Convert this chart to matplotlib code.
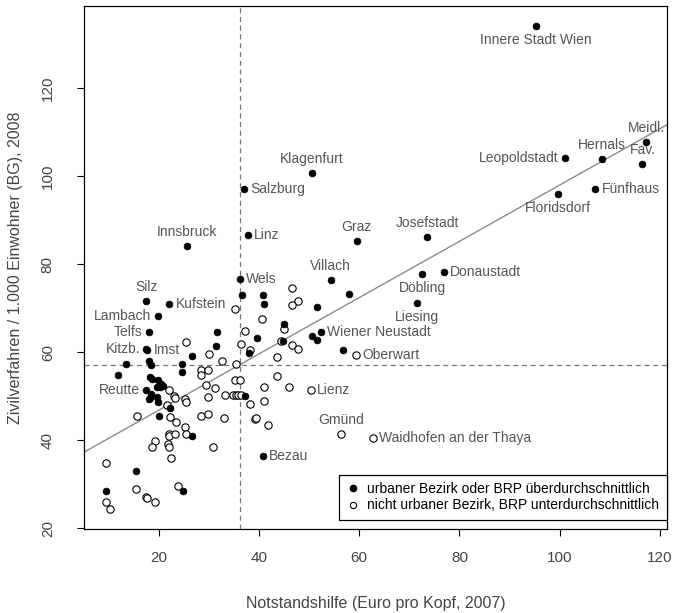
import matplotlib
matplotlib.use("Agg")
import matplotlib.pyplot as plt
from matplotlib.lines import Line2D

# urbane Bezirke / BRP ueberdurchschnittlich (gefuellte Punkte)
urban_names = [
    "Innere Stadt Wien", "Meidl.", "Fav.", "Hernals", "Leopoldstadt", "Fünfhaus",
    "Floridsdorf", "Klagenfurt", "Salzburg", "Linz", "Innsbruck", "Graz",
    "Josefstadt", "Villach", "Donaustadt", "Döbling", "Liesing", "Wiener Neustadt",
    "Wels", "Silz", "Kufstein", "Lambach", "Telfs", "Kitzb.", "Imst", "Reutte", "Bezau",
]
urban_x = [95.2, 117.2, 116.5, 108.4, 101.1, 107.1, 99.6, 50.6, 37.0, 37.8, 25.6, 59.5,
           73.6, 54.3, 76.9, 72.6, 71.6, 52.4, 36.2, 17.5, 22.1, 19.8, 18.1, 17.5, 17.7,
           17.4, 40.8]
urban_y = [134.1, 107.7, 102.7, 103.9, 104.1, 97.1, 95.9, 100.8, 97.0, 86.6, 84.1, 85.3,
           86.1, 76.4, 78.3, 77.8, 71.1, 64.5, 76.6, 71.6, 70.9, 68.3, 64.6, 60.7, 60.5,
           51.3, 36.4]

urban_x_other = [58.0, 51.5, 45.0, 50.5, 51.5, 56.8, 44.8, 36.6, 40.8, 41.0, 31.7, 31.4,
                 39.6, 38.0, 37.3, 13.5, 11.8, 18.0, 18.4, 24.7, 24.7, 26.7, 18.2, 18.6,
                 19.9, 20.5, 20.9, 19.7, 20.2, 18.5, 18.2, 18.1, 19.7, 19.9, 22.2, 20.0,
                 26.7, 15.5, 9.5, 24.9]
urban_y_other = [73.3, 70.2, 66.4, 63.6, 62.7, 60.6, 62.6, 72.9, 72.9, 71.0, 64.5, 61.3,
                 63.3, 59.8, 50.0, 57.2, 54.8, 58.0, 57.0, 57.2, 55.6, 59.2, 54.4, 54.0,
                 53.6, 52.7, 52.3, 52.0, 52.0, 50.6, 49.6, 49.3, 49.7, 48.7, 47.2, 45.4,
                 41.0, 33.0, 28.4, 28.4]

# nicht urbane Bezirke, BRP unterdurchschnittlich (offene Punkte)
rural_names = ["Oberwart", "Lienz", "Gmünd", "Waidhofen an der Thaya"]
rural_x = [59.4, 50.3, 56.3, 62.8]
rural_y = [59.3, 51.5, 41.5, 40.6]

rural_x_other = [46.5, 47.7, 46.5, 45.0, 46.5, 47.7, 46.0, 35.3, 40.6, 37.3, 36.4, 30.1,
                 32.6, 43.6, 35.4, 43.6, 41.0, 35.3, 36.2, 38.2, 41.0, 39.3, 39.5, 41.8,
                 30.8, 38.2, 44.4, 25.5, 28.5, 29.8, 28.4, 29.5, 31.2, 29.9, 33.2, 34.8,
                 35.4, 35.9, 36.5, 22.0, 23.1, 23.2, 25.3, 25.4, 21.7, 15.7, 22.2, 23.5,
                 28.4, 29.8, 33.0, 25.2, 25.4, 22.0, 22.1, 23.2, 21.9, 22.0, 19.3, 18.7,
                 22.5, 9.4, 15.5, 17.4, 17.7, 19.2, 23.8, 9.4, 10.2]
rural_y_other = [74.6, 71.6, 70.7, 65.2, 61.6, 60.7, 52.0, 69.9, 67.6, 64.9, 61.8, 59.5,
                 57.9, 59.0, 57.3, 54.6, 52.0, 53.6, 53.6, 48.2, 48.9, 44.9, 45.0, 43.4,
                 38.4, 60.4, 62.6, 62.3, 55.9, 55.9, 54.9, 52.5, 51.9, 49.8, 50.2, 50.2,
                 50.2, 50.2, 50.2, 51.4, 50.1, 49.5, 49.4, 48.7, 48.0, 45.6, 45.2, 44.2,
                 45.5, 46.0, 45.1, 43.0, 41.5, 41.5, 41.0, 41.4, 39.1, 38.5, 39.7, 38.4,
                 36.0, 34.9, 29.0, 27.1, 26.8, 26.0, 29.5, 26.0, 24.3]

mean_x = 36.25
mean_y = 57.0
fit_intercept = 34.0
fit_slope = 0.64

# which side of the point each label sits on
label_side = {
    "Innere Stadt Wien": "below", "Meidl.": "above", "Fav.": "above", "Hernals": "above",
    "Leopoldstadt": "left", "Fünfhaus": "right", "Floridsdorf": "below",
    "Klagenfurt": "above", "Salzburg": "right", "Linz": "right", "Innsbruck": "above",
    "Graz": "above", "Josefstadt": "above", "Villach": "above", "Donaustadt": "right",
    "Döbling": "below", "Liesing": "below", "Wiener Neustadt": "right", "Wels": "right",
    "Silz": "above", "Kufstein": "right", "Lambach": "left", "Telfs": "left",
    "Kitzb.": "left", "Imst": "right", "Reutte": "left", "Bezau": "right",
    "Oberwart": "right", "Lienz": "right", "Gmünd": "above",
    "Waidhofen an der Thaya": "right",
}

plt.rcParams["font.family"] = ["Liberation Sans", "DejaVu Sans"]

fig = plt.figure(figsize=(6.74, 6.13), dpi=100)
ax = fig.add_axes([84 / 674, 1 - 529 / 613, (667 - 84) / 674, (529 - 6) / 613])

GREY_TXT = "#555555"

ax.axvline(mean_x, color="#777777", ls=(0, (4, 3)), lw=0.9, zorder=1)
ax.axhline(mean_y, color="#777777", ls=(0, (4, 3)), lw=0.9, zorder=1)
ax.axline((0, fit_intercept), slope=fit_slope, color="#8a8a8a", lw=1.0, zorder=1)

ax.scatter(urban_x + urban_x_other, urban_y + urban_y_other, s=24, c="black",
           edgecolors="black", linewidths=0.5, zorder=3)
ax.scatter(rural_x + rural_x_other, rural_y + rural_y_other, s=28, facecolors="white",
           edgecolors="black", linewidths=0.8, zorder=2)

offsets = {"above": (0, 5, "center", "bottom"), "below": (0, -5, "center", "top"),
           "left": (-4.5, 0, "right", "center"), "right": (4.5, 0, "left", "center")}
for names, xs, ys in [(urban_names, urban_x, urban_y), (rural_names, rural_x, rural_y)]:
    for name, x, y in zip(names, xs, ys):
        dx, dy, ha, va = offsets[label_side[name]]
        ax.annotate(name, (x, y), xytext=(dx, dy), textcoords="offset points",
                    ha=ha, va=va, fontsize=10, color=GREY_TXT, zorder=4)

ax.set_xlim(5.1, 121.4)
ax.set_ylim(19.8, 138.7)
ax.set_xticks([20, 40, 60, 80, 100, 120])
ax.set_yticks([20, 40, 60, 80, 100, 120])
ax.tick_params(axis="both", direction="out", length=5, width=0.8, labelsize=11,
               labelcolor="#444444")
ax.tick_params(axis="x", pad=11)
ax.tick_params(axis="y", pad=16)
for lab in ax.get_yticklabels():
    lab.set_rotation(90)
    lab.set_va("center")
for sp in ax.spines.values():
    sp.set_linewidth(0.9)

ax.set_xlabel("Notstandshilfe (Euro pro Kopf, 2007)", fontsize=11.5, color="#444444",
              labelpad=22)
ax.set_ylabel("Zivilverfahren / 1.000 Einwohner (BG), 2008", fontsize=11.5,
              color="#444444", labelpad=13)

handles = [
    Line2D([], [], ls="none", marker="o", markersize=4.5, markerfacecolor="black",
           markeredgecolor="black"),
    Line2D([], [], ls="none", marker="o", markersize=4.5, markerfacecolor="white",
           markeredgecolor="black", markeredgewidth=0.8),
]
leg = ax.legend(handles, ["urbaner Bezirk oder BRP überdurchschnittlich",
                          "nicht urbaner Bezirk, BRP unterdurchschnittlich"],
                loc="lower right", bbox_to_anchor=(1, 9 / 523), borderaxespad=0,
                fontsize=10, fancybox=False, framealpha=1, edgecolor="black",
                handletextpad=0.5, handlelength=1.0, labelspacing=0.15,
                borderpad=0.55)
leg.get_frame().set_linewidth(0.9)

fig.savefig("out.png", dpi=100)
